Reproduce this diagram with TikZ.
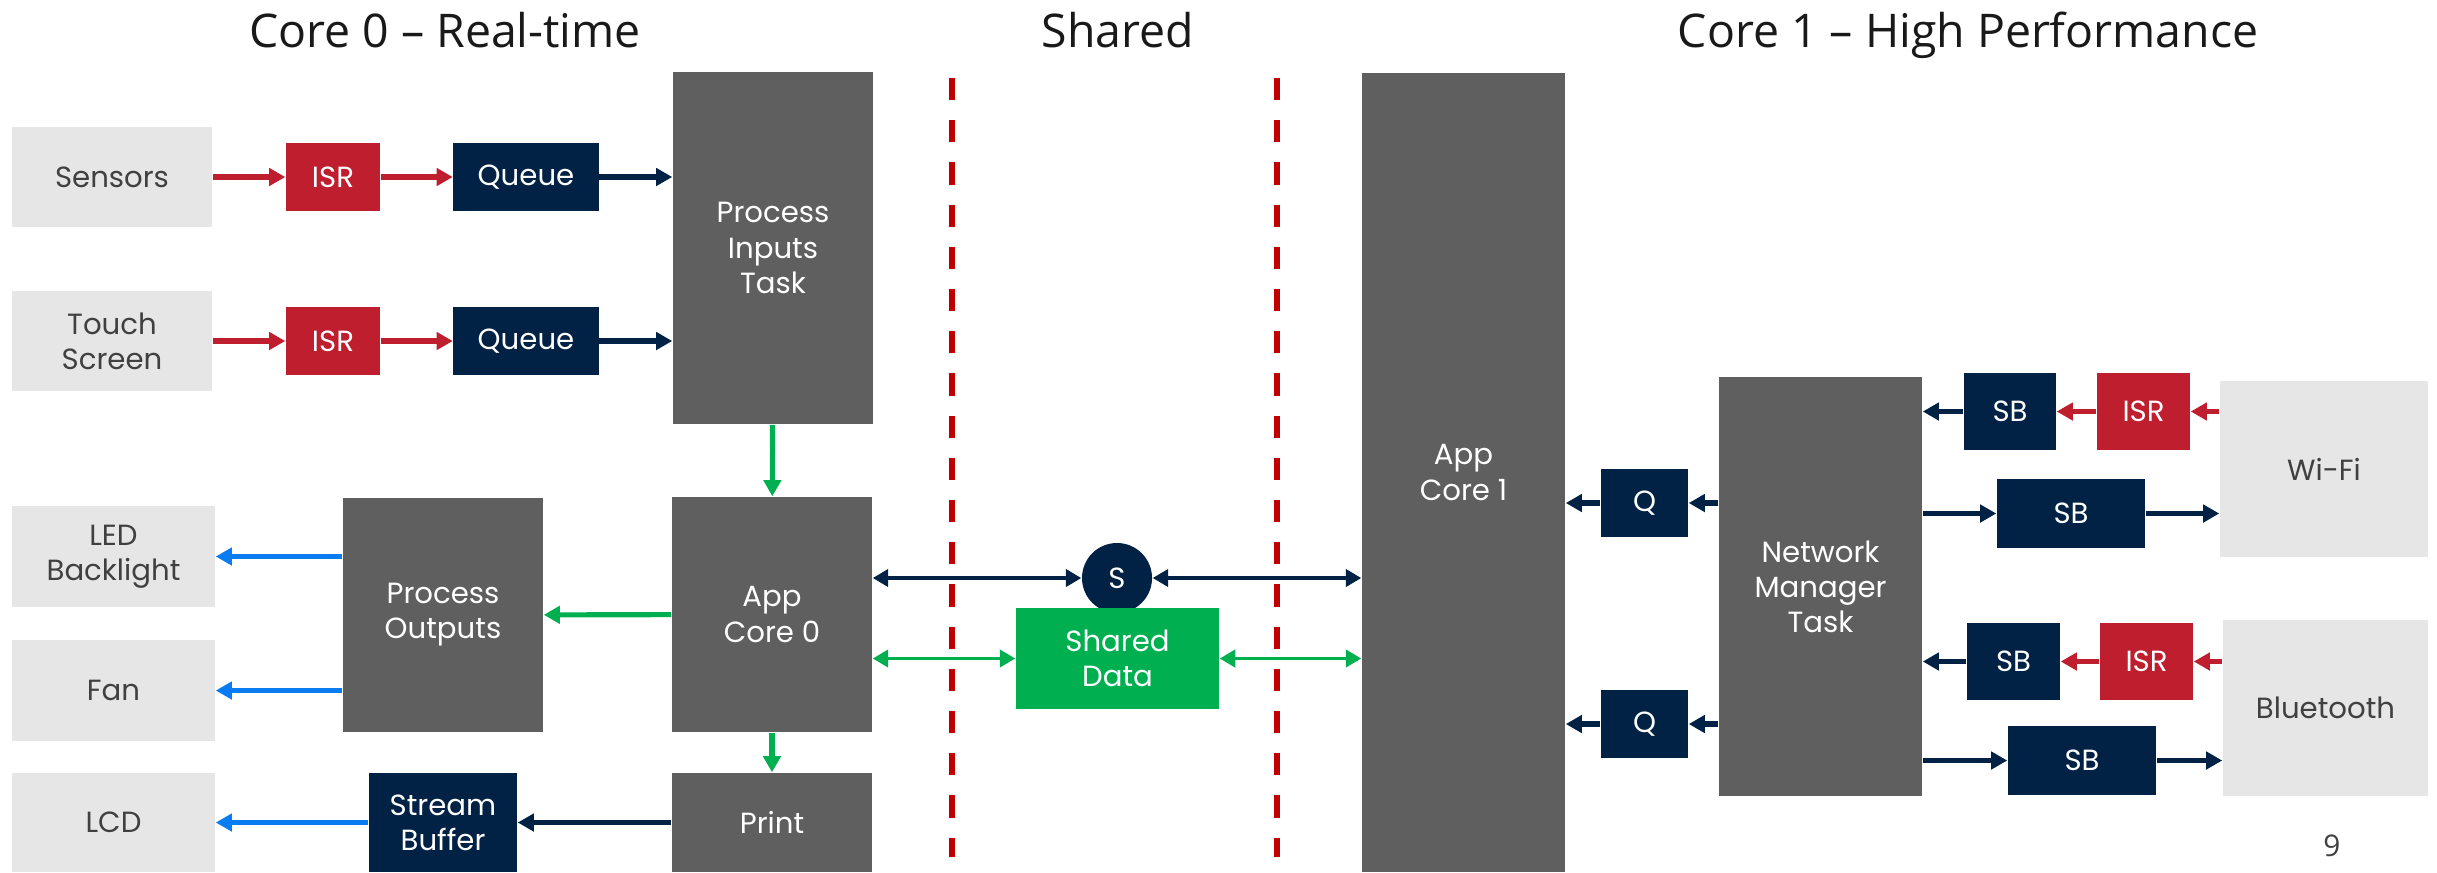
\documentclass[tikz,border=0pt]{standalone}
\usepackage{fontspec}
\setmainfont{Poppins}
\newfontfamily\headfont{Open Sans}
\usetikzlibrary{arrows.meta}
\definecolor{lightbox}{HTML}{E6E6E6}
\definecolor{darkbox}{HTML}{5F5F5F}
\definecolor{navy}{HTML}{012245}
\definecolor{isrred}{HTML}{BE1E2D}
\definecolor{sharegreen}{HTML}{00B050}
\definecolor{outblue}{HTML}{0A7CF2}
\definecolor{splitred}{HTML}{C00000}
\definecolor{labelgray}{HTML}{404040}
\tikzset{
	blk/.style={inner sep=0pt, align=center, font=\fontsize{8.3}{10}\selectfont},
	dev/.style={blk, fill=lightbox, text=labelgray},
	task/.style={blk, fill=darkbox, text=white},
	buf/.style={blk, fill=navy, text=white},
	isr/.style={blk, fill=isrred, text=white},
	flow/.style={line width=1.45pt, -{Triangle[length=4.6pt,width=4.9pt]}},
	link/.style={line width=1pt, {Triangle[length=4.4pt,width=4.9pt]}-{Triangle[length=4.4pt,width=4.9pt]}},
	head/.style={font=\headfont\fontsize{13.2}{16}\selectfont, anchor=base, text=black!90},
}

\begin{document}
\begin{tikzpicture}[x=0.01cm, y=-0.01cm]
		\def \top{ 78 };
		\def \bot{ 857 };
		\useasboundingbox (0,0) rectangle (2437,872);
		\node[head] (t0) at (445,47) {Core 0 – Real-time};
		\node[head] (t2) at (1118,47) {Shared};
		\node[head] (t1) at (1968,47) {Core 1 – High Performance};
		\node[dev, minimum width=2cm, minimum height=0.99cm] (sens) at (112,177) {Sensors};
		\node[dev, minimum width=2cm, minimum height=0.99cm] (touch) at (112,341) {Touch\\Screen};
		\node[isr, minimum width=0.94cm, minimum height=0.67cm] (isr1) at (333,177) {ISR};
		\node[isr, minimum width=0.94cm, minimum height=0.67cm] (isr2) at (333,341) {ISR};
		\node[buf, minimum width=1.45cm, minimum height=0.67cm] (que1) at (526,177) {Queue};
		\node[buf, minimum width=1.45cm, minimum height=0.67cm] (que2) at (526,341) {Queue};
		\node[task, minimum width=2cm, minimum height=3.52cm] (pin) at (773,248) {Process\\Inputs\\Task};
		\node[task, minimum width=2cm, minimum height=2.35cm] (app0) at (772,614.5) {App\\Core 0};
		\node[task, minimum width=2cm, minimum height=0.99cm] (prn) at (772,822.5) {Print};
		\node[task, minimum width=2cm, minimum height=2.34cm] (pout) at (443,615) {Process\\Outputs};
		\node[dev, minimum width=2.03cm, minimum height=1.01cm] (led) at (113.5,556.5) {LED\\Backlight};
		\node[dev, minimum width=2.03cm, minimum height=1.01cm] (fan) at (113.5,690.5) {Fan};
		\node[dev, minimum width=2.03cm, minimum height=0.99cm] (lcd) at (113.5,822.5) {LCD};
		\node[buf, minimum width=1.48cm, minimum height=0.99cm] (sbuf) at (443,822.5) {Stream\\Buffer};
		\node[buf, circle, minimum size=0.7cm] (sem) at (1117,578) {S};
		\node[blk, fill=sharegreen, text=white, minimum width=2.03cm, minimum height=1.01cm] (sdat) at (1117.5,658.5) {Shared\\Data};
		\node[task, minimum width=2.03cm, minimum height=7.99cm] (app1) at (1463.5,472.5) {App\\Core 1};
		\node[task, minimum width=2.03cm, minimum height=4.19cm] (net) at (1820.5,586.5) {Network\\Manager\\Task};
		\node[buf, minimum width=0.87cm, minimum height=0.68cm] (q1) at (1644.5,503) {Q};
		\node[buf, minimum width=0.87cm, minimum height=0.68cm] (q2) at (1644.5,724) {Q};
		\node[buf, minimum width=0.92cm, minimum height=0.77cm] (sb1) at (2010,411.5) {SB};
		\node[isr, minimum width=0.93cm, minimum height=0.77cm] (isr3) at (2143.5,411.5) {ISR};
		\node[dev, minimum width=2.08cm, minimum height=1.76cm] (wifi) at (2324,469) {Wi-Fi};
		\node[buf, minimum width=1.48cm, minimum height=0.69cm] (sb2) at (2071,513.5) {SB};
		\node[buf, minimum width=0.93cm, minimum height=0.77cm] (sb3) at (2013.5,661.5) {SB};
		\node[isr, minimum width=0.93cm, minimum height=0.77cm] (isr4) at (2146.5,661.5) {ISR};
		\node[dev, minimum width=2.05cm, minimum height=1.76cm] (bt) at (2325.5,708) {Bluetooth};
		\node[buf, minimum width=1.48cm, minimum height=0.69cm] (sb4) at (2082,760.5) {SB};
		\node[blk, text=labelgray, font=\headfont\fontsize{8.5}{10}\selectfont] (pg) at (2332,846) {9};
		\draw[splitred, line width=1.6pt, dash pattern=on 6.3pt off 5.7pt] (952,\top) -- (952,\bot);
		\draw[splitred, line width=1.6pt, dash pattern=on 6.3pt off 5.7pt] (1277,\top) -- (1277,\bot);
		\draw[flow, isrred] (sens) -- (isr1);
		\draw[flow, isrred] (isr1) -- (que1);
		\draw[flow, navy] (que1) -- (que1 -| pin.west);
		\draw[flow, isrred] (touch) -- (isr2);
		\draw[flow, isrred] (isr2) -- (que2);
		\draw[flow, navy] (que2) -- (que2 -| pin.west);
		\draw[flow, sharegreen] (pin) -- (app0);
		\draw[flow, sharegreen] (app0) -- (pout);
		\draw[flow, sharegreen] (app0) -- (prn);
		\draw[flow, outblue] (pout.west |- led) -- (led);
		\draw[flow, outblue] (pout.west |- fan) -- (fan);
		\draw[flow, navy] (prn) -- (sbuf);
		\draw[flow, outblue] (sbuf) -- (lcd);
		\draw[link, navy] (app0.east |- sem) -- (sem);
		\draw[link, navy] (sem) -- (app1.west |- sem);
		\draw[link, sharegreen] (app0.east |- sdat) -- (sdat);
		\draw[link, sharegreen] (sdat) -- (app1.west |- sdat);
		\draw[flow, navy] (net.west |- q1) -- (q1);
		\draw[flow, navy] (q1) -- (app1.east |- q1);
		\draw[flow, navy] (net.west |- q2) -- (q2);
		\draw[flow, navy] (q2) -- (app1.east |- q2);
		\draw[flow, isrred] (wifi.west |- isr3) -- (isr3);
		\draw[flow, isrred] (isr3) -- (sb1);
		\draw[flow, navy] (sb1) -- (net.east |- sb1);
		\draw[flow, navy] (net.east |- sb2) -- (sb2);
		\draw[flow, navy] (sb2) -- (wifi.west |- sb2);
		\draw[flow, isrred] (bt.west |- isr4) -- (isr4);
		\draw[flow, isrred] (isr4) -- (sb3);
		\draw[flow, navy] (sb3) -- (net.east |- sb3);
		\draw[flow, navy] (net.east |- sb4) -- (sb4);
		\draw[flow, navy] (sb4) -- (bt.west |- sb4);
	\end{tikzpicture}
\end{document}
